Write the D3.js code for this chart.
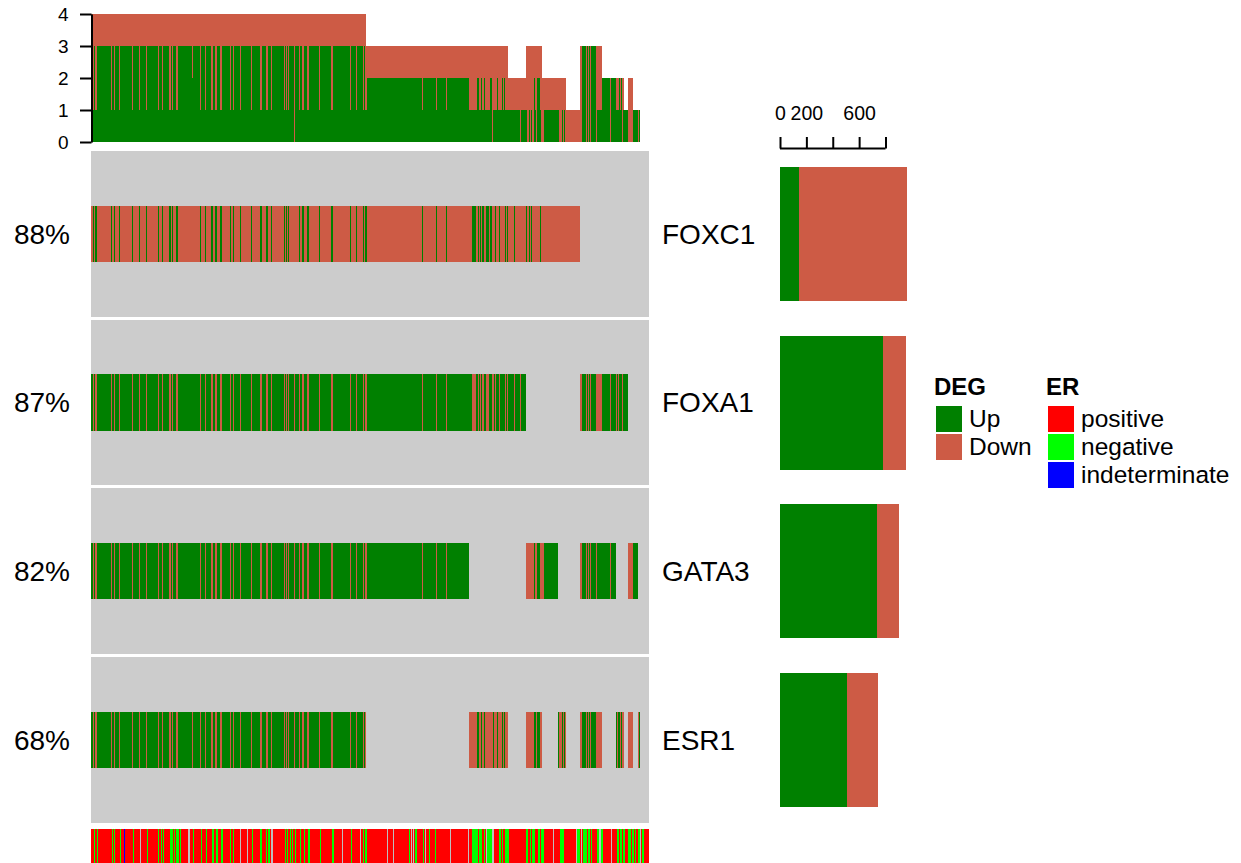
<!DOCTYPE html>
<html>
<head>
<meta charset="utf-8">
<script src="https://cdn.jsdelivr.net/npm/d3@7"></script>
<style>
  body { margin: 0; background: #fff; }
  svg { display: block; font-family: "Liberation Sans", Arial, Helvetica, sans-serif; }
</style>
</head>
<body>
<svg id="chart" width="1241" height="863"></svg>
<script>
// ---- data -------------------------------------------------------------
const N_SAMPLES = 1100;
const genes = ["FOXC1", "FOXA1", "GATA3", "ESR1"];

// Per-gene runs of samples: [start, end (exclusive), status]; U = Up, D = Down.
// Later runs override earlier ones; samples not covered are unaltered.
const foxc1Runs = [
  [0, 963, "D"],
  [3, 5, "U"], [8, 12, "U"], [39, 41, "U"], [45, 47, "U"], [55, 57, "U"], [80, 82, "U"], [95, 97, "U"],
  [108, 111, "U"], [132, 134, "U"], [139, 142, "U"], [154, 158, "U"], [160, 162, "U"], [167, 171, "U"],
  [215, 217, "U"], [224, 226, "U"], [237, 241, "U"], [244, 248, "U"], [254, 258, "U"], [274, 276, "U"],
  [280, 282, "U"], [294, 296, "U"], [315, 317, "U"], [333, 337, "U"], [345, 349, "U"], [355, 357, "U"],
  [380, 382, "U"], [384, 386, "U"], [388, 390, "U"], [410, 412, "U"], [416, 420, "U"], [426, 430, "U"],
  [449, 451, "U"], [473, 477, "U"], [510, 512, "U"], [522, 524, "U"], [536, 538, "U"], [540, 544, "U"],
  [653, 655, "U"], [680, 682, "U"], [700, 702, "U"], [751, 759, "U"], [762, 764, "U"], [767, 769, "U"],
  [771, 774, "U"], [779, 784, "U"], [787, 790, "U"], [797, 799, "U"], [805, 807, "U"], [817, 819, "U"],
  [821, 823, "U"], [833, 835, "U"], [858, 860, "U"], [864, 866, "U"], [867, 869, "U"], [886, 888, "U"]
];
const foxa1Runs = [
  [0, 857, "U"], [963, 1059, "U"],
  [3, 5, "D"], [8, 12, "D"], [39, 41, "D"], [45, 47, "D"], [55, 57, "D"], [80, 82, "D"], [95, 97, "D"],
  [108, 111, "D"], [132, 134, "D"], [139, 142, "D"], [154, 158, "D"], [160, 162, "D"], [167, 171, "D"],
  [215, 217, "D"], [224, 226, "D"], [237, 241, "D"], [244, 248, "D"], [254, 258, "D"], [274, 276, "D"],
  [280, 282, "D"], [294, 296, "D"], [315, 317, "D"], [333, 337, "D"], [345, 349, "D"], [355, 357, "D"],
  [380, 382, "D"], [384, 386, "D"], [388, 390, "D"], [400, 402, "D"], [410, 412, "D"], [416, 420, "D"],
  [426, 430, "D"], [449, 451, "D"], [473, 477, "D"], [510, 512, "D"], [522, 524, "D"], [536, 538, "D"],
  [540, 544, "D"],
  [653, 655, "D"], [680, 682, "D"], [700, 702, "D"], [751, 759, "D"], [762, 764, "D"], [767, 769, "D"],
  [771, 774, "D"], [779, 784, "D"], [790, 794, "D"], [797, 799, "D"], [805, 807, "D"], [817, 819, "D"],
  [821, 823, "D"], [833, 835, "D"], [846, 848, "D"],
  [963, 967, "D"], [975, 977, "D"], [979, 981, "D"], [983, 985, "D"], [995, 1008, "D"], [1024, 1026, "D"],
  [1034, 1036, "D"], [1039, 1041, "D"], [1046, 1048, "D"]
];
const gata3Runs = [
  [0, 745, "U"],
  [3, 5, "D"], [8, 12, "D"], [39, 41, "D"], [45, 47, "D"], [55, 57, "D"], [80, 82, "D"], [95, 97, "D"],
  [108, 111, "D"], [132, 134, "D"], [139, 142, "D"], [154, 158, "D"], [160, 162, "D"], [167, 171, "D"],
  [215, 217, "D"], [224, 226, "D"], [237, 241, "D"], [244, 248, "D"], [254, 258, "D"], [274, 276, "D"],
  [280, 282, "D"], [294, 296, "D"], [315, 317, "D"], [333, 337, "D"], [345, 349, "D"], [355, 357, "D"],
  [380, 382, "D"], [384, 386, "D"], [388, 390, "D"], [400, 402, "D"], [410, 412, "D"], [416, 420, "D"],
  [426, 430, "D"], [449, 451, "D"], [473, 477, "D"], [510, 512, "D"], [522, 524, "D"], [536, 538, "D"],
  [540, 544, "D"],
  [653, 655, "D"], [680, 682, "D"], [700, 702, "D"],
  [857, 920, "U"], [857, 873, "D"], [876, 879, "D"], [885, 893, "D"],
  [963, 1034, "U"], [963, 967, "D"], [975, 977, "D"], [979, 981, "D"], [983, 985, "D"], [995, 998, "D"],
  [1024, 1026, "D"],
  [1058, 1069, "D"], [1069, 1079, "U"]
];
const esr1Runs = [
  [0, 543, "U"],
  [3, 5, "D"], [8, 12, "D"], [39, 41, "D"], [45, 47, "D"], [55, 57, "D"], [80, 82, "D"], [95, 97, "D"],
  [108, 111, "D"], [132, 134, "D"], [139, 142, "D"], [154, 158, "D"], [160, 162, "D"], [167, 171, "D"],
  [199, 201, "D"], [215, 217, "D"], [224, 226, "D"], [237, 241, "D"], [244, 248, "D"], [254, 258, "D"],
  [274, 276, "D"], [280, 282, "D"], [294, 296, "D"], [315, 317, "D"], [333, 337, "D"], [345, 349, "D"],
  [355, 357, "D"], [380, 382, "D"], [384, 386, "D"], [388, 390, "D"], [400, 402, "D"], [410, 412, "D"],
  [416, 420, "D"], [426, 430, "D"], [449, 451, "D"], [473, 477, "D"], [510, 512, "D"], [522, 524, "D"],
  [536, 538, "D"], [540, 543, "D"],
  [745, 822, "D"], [761, 764, "U"], [768, 770, "U"], [774, 777, "U"], [793, 795, "U"], [800, 802, "U"],
  [810, 812, "U"], [814, 816, "U"],
  [857, 890, "D"], [873, 877, "U"], [879, 885, "U"],
  [920, 936, "D"], [920, 922, "U"], [928, 930, "U"], [932, 934, "U"],
  [963, 1008, "U"], [963, 967, "D"], [975, 977, "D"], [979, 981, "D"], [983, 985, "D"], [995, 1008, "D"],
  [1034, 1051, "U"], [1037, 1039, "D"], [1042, 1044, "D"], [1047, 1051, "D"],
  [1058, 1069, "D"],
  [1079, 1081, "D"], [1081, 1083, "U"]
];

// ER status per sample: positive unless listed below.
const erNegative = [
  [6, 8], [12, 14], [41, 43], [45, 47], [57, 59], [83, 85], [110, 112], [132, 134], [138, 140], [142, 144],
  [156, 162], [164, 166], [168, 174], [175, 177], [201, 203], [217, 219], [227, 229], [238, 242], [246, 250],
  [256, 260], [274, 276], [280, 282], [317, 319], [333, 337], [345, 347], [349, 353], [382, 384], [386, 388],
  [392, 394], [396, 398], [402, 404], [412, 414], [420, 422], [428, 432], [451, 453], [475, 479], [513, 515],
  [536, 538], [540, 544], [627, 629], [639, 643], [654, 656], [666, 668], [678, 680], [751, 763], [765, 771],
  [775, 777], [781, 790], [804, 808], [810, 812], [816, 824], [858, 862], [865, 867], [869, 875], [881, 885],
  [887, 893], [925, 932], [959, 963], [969, 977], [979, 983], [985, 987], [997, 1001], [1005, 1009],
  [1036, 1040], [1042, 1046], [1048, 1052], [1058, 1064], [1066, 1070], [1073, 1075], [1079, 1083],
  [1087, 1091]
];
const erIndeterminate = [[65, 67]];
const erMissing = [
  [97, 99], [191, 195], [294, 296], [307, 309], [355, 359], [495, 497], [530, 532], [584, 586], [595, 597],
  [631, 633], [635, 637], [658, 660], [708, 710], [743, 745], [779, 781], [790, 794], [911, 913], [957, 959],
  [965, 967], [1001, 1005], [1026, 1028], [1070, 1071], [1083, 1085]
];

const degLevels = ["Up", "Down"];
const degColors = ["#008000", "#CD5B45"];
const erLevels = ["positive", "negative", "indeterminate"];
const erColors = ["#FF0000", "#00FF00", "#0000FF"];
const erMissingColor = "#BEBEBE";
const cellBackground = "#CCCCCC";
const altTicks = [0, 1, 2, 3, 4];
const countTicks = [0, 200, 400, 600, 800];
const countTickLabels = ["0", "200", "", "600", ""];

// ---- per-sample matrix ------------------------------------------------
const geneRuns = [foxc1Runs, foxa1Runs, gata3Runs, esr1Runs];
function expand(runs) {
  const a = new Array(N_SAMPLES).fill(null);
  runs.forEach(([s, e, v]) => { for (let i = s; i < e; i++) a[i] = v; });
  return a;
}
const matrix = geneRuns.map(expand);
const er = new Array(N_SAMPLES).fill("positive");
erNegative.forEach(([s, e]) => { for (let i = s; i < e; i++) er[i] = "negative"; });
erIndeterminate.forEach(([s, e]) => { for (let i = s; i < e; i++) er[i] = "indeterminate"; });
erMissing.forEach(([s, e]) => { for (let i = s; i < e; i++) er[i] = null; });

// merge consecutive samples with the same key into spans
function spans(arr, key = d => d) {
  const out = [];
  let start = 0;
  for (let i = 1; i <= arr.length; i++) {
    if (i === arr.length || key(arr[i]) !== key(arr[start])) {
      out.push({ start, end: i, value: arr[start] });
      start = i;
    }
  }
  return out;
}

const geneStats = genes.map((g, gi) => {
  const row = matrix[gi];
  const up = row.filter(v => v === "U").length;
  const down = row.filter(v => v === "D").length;
  const altered = row.filter(v => v !== null).length;
  return { gene: g, up, down, pct: Math.round(100 * altered / N_SAMPLES) };
});
const perSample = d3.range(N_SAMPLES).map(i => ({
  up: matrix.filter(r => r[i] === "U").length,
  down: matrix.filter(r => r[i] === "D").length
}));

// ---- layout & scales ----------------------------------------------------
const svg = d3.select("#chart");
const degColor = d3.scaleOrdinal().domain(["U", "D"]).range(degColors);
const erColor = d3.scaleOrdinal().domain(erLevels).range(erColors);

const x = d3.scaleLinear().domain([0, N_SAMPLES]).range([91, 649]);
const y = d3.scaleBand().domain(genes).range([149.5, 824.3]);
const bw = y.bandwidth();

// heatmap body
const body = svg.append("g").attr("shape-rendering", "crispEdges");
genes.forEach((g, gi) => {
  body.append("rect")
    .attr("x", x(0)).attr("width", x(N_SAMPLES) - x(0))
    .attr("y", y(g) + 1.5).attr("height", bw - 3)
    .attr("fill", cellBackground);
  body.selectAll(null)
    .data(spans(matrix[gi]).filter(s => s.value !== null))
    .join("rect")
    .attr("x", d => x(d.start))
    .attr("width", d => x(d.end) - x(d.start))
    .attr("y", y(g) + bw / 3)
    .attr("height", bw / 3)
    .attr("fill", d => degColor(d.value));
});

// ER annotation row
svg.append("g").attr("shape-rendering", "crispEdges")
  .selectAll("rect")
  .data(spans(er))
  .join("rect")
  .attr("x", d => x(d.start))
  .attr("width", d => x(d.end) - x(d.start))
  .attr("y", 828.5).attr("height", 34.5)
  .attr("fill", d => d.value === null ? erMissingColor : erColor(d.value));

// top barplot: altered genes per sample
const yTop = d3.scaleLinear().domain([0, 4]).range([142, 14]);
const topSpans = spans(perSample, d => d.up + "_" + d.down).filter(s => s.value.up + s.value.down > 0);
const topG = svg.append("g").attr("shape-rendering", "crispEdges");
topG.selectAll("rect.up")
  .data(topSpans.filter(s => s.value.up > 0))
  .join("rect").attr("class", "up")
  .attr("x", d => x(d.start)).attr("width", d => x(d.end) - x(d.start))
  .attr("y", d => yTop(d.value.up)).attr("height", d => yTop(0) - yTop(d.value.up))
  .attr("fill", degColor("U"));
topG.selectAll("rect.down")
  .data(topSpans.filter(s => s.value.down > 0))
  .join("rect").attr("class", "down")
  .attr("x", d => x(d.start)).attr("width", d => x(d.end) - x(d.start))
  .attr("y", d => yTop(d.value.up + d.value.down))
  .attr("height", d => yTop(d.value.up) - yTop(d.value.up + d.value.down))
  .attr("fill", degColor("D"));

const topAxis = svg.append("g")
  .attr("transform", "translate(91.5,0)")
  .call(d3.axisLeft(yTop).tickValues(altTicks).tickFormat(d3.format("d"))
    .tickSize(11.5).tickSizeOuter(0).tickPadding(11.5))
  .attr("font-family", null).attr("font-size", 19);
topAxis.select(".domain").attr("stroke-width", 2);
topAxis.selectAll(".tick line").attr("stroke-width", 2);
topAxis.selectAll("text").attr("fill", "#000");

// right barplot: samples per gene
const maxCount = d3.max(geneStats, d => d.up + d.down);
const xr = d3.scaleLinear().domain([0, maxCount]).range([780, 907]);
const barH = 134;
const rightG = svg.append("g").attr("shape-rendering", "crispEdges");
geneStats.forEach(s => {
  const cy = y(s.gene) + bw / 2;
  rightG.append("rect")
    .attr("x", xr(0)).attr("width", xr(s.up) - xr(0))
    .attr("y", cy - barH / 2).attr("height", barH).attr("fill", degColor("U"));
  rightG.append("rect")
    .attr("x", xr(s.up)).attr("width", xr(s.up + s.down) - xr(s.up))
    .attr("y", cy - barH / 2).attr("height", barH).attr("fill", degColor("D"));
});
const rightAxis = svg.append("g")
  .attr("transform", "translate(0,148.5)")
  .call(d3.axisTop(xr).tickValues(countTicks).tickSize(11.5).tickSizeOuter(0).tickPadding(17)
    .tickFormat((d, i) => countTickLabels[i]))
  .attr("font-family", null).attr("font-size", 19.5);
rightAxis.select(".domain").attr("stroke-width", 2).attr("d", `M${xr(0)},0H${xr(800)}`);
rightAxis.selectAll(".tick line").attr("stroke-width", 2);
rightAxis.selectAll("text").attr("fill", "#000");

// row labels
geneStats.forEach(s => {
  const cy = y(s.gene) + bw / 2;
  svg.append("text")
    .attr("x", 70).attr("y", cy + 28 * 0.35)
    .attr("text-anchor", "end").attr("font-size", 28)
    .text(s.pct + "%");
  svg.append("text")
    .attr("x", 662).attr("y", cy + 28 * 0.35)
    .attr("font-size", 28)
    .text(s.gene);
});

// legends
function legend(title, levels, colors, x0) {
  const g = svg.append("g");
  g.append("text").attr("x", x0 - 2).attr("y", 395)
    .attr("font-size", 24).attr("font-weight", "bold").text(title);
  levels.forEach((lv, i) => {
    const yy = 406 + i * 28;
    g.append("rect").attr("x", x0).attr("y", yy).attr("width", 26).attr("height", 26)
      .attr("fill", colors[i]);
    g.append("text").attr("x", x0 + 33).attr("y", yy + 13 + 24 * 0.35)
      .attr("font-size", 24.5).text(lv);
  });
}
legend("DEG", degLevels, degColors, 936);
legend("ER", erLevels, erColors, 1048);
</script>
</body>
</html>
